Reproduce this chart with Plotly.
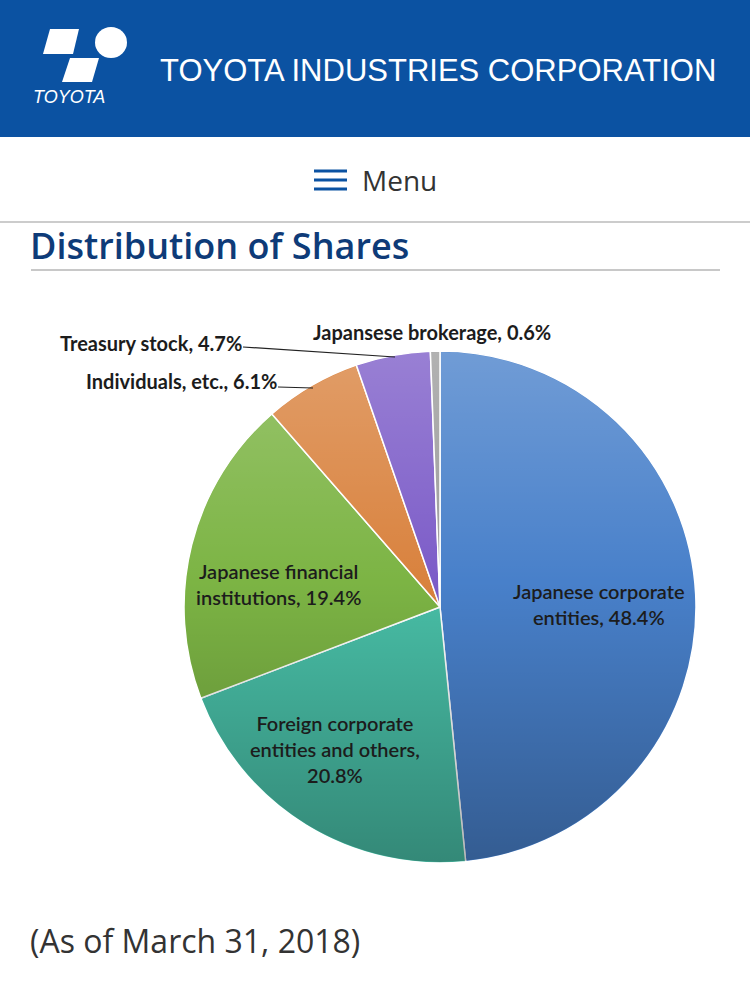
import base64
import plotly.graph_objects as go

# shareholder distribution (as of March 31, 2018)
labels = ["Japanese corporate entities", "Foreign corporate entities and others",
          "Japanese financial institutions", "Individuals, etc.", "Treasury stock",
          "Japansese brokerage"]
names = ["Japanese corporate<br>entities", "Foreign corporate<br>entities and others",
         "Japanese financial<br>institutions", "Individuals, etc.", "Treasury stock",
         "Japansese brokerage"]
seps = [", ", ",<br>", ", ", ", ", ", ", ", "]
shares = [48.4, 20.8, 19.4, 6.1, 4.7, 0.6]
colors = ["#4880ca", "#48bea6", "#7cb444", "#d9823e", "#7c5cc8", "#9c9c9c"]

W, H = 750, 993
def px(x): return x / W
def py(y): return 1 - y / H

BLUE = "#0b52a2"
NAVY = "#0e3b78"

# pie box (pixels)
PX0, PX1, PY0, PY1 = 184, 696, 351, 863

fig = go.Figure()
fig.add_trace(go.Pie(values=shares, labels=labels, sort=False, direction="clockwise",
                     rotation=0, textinfo="none", hoverinfo="label+percent",
                     marker=dict(colors=colors, line=dict(color="white", width=1.5)),
                     domain=dict(x=[px(PX0), px(PX1)], y=[py(PY1), py(PY0)]),
                     showlegend=False))

# soft vertical shading over the pie (light top, dark bottom)
svg = ("<svg xmlns='http://www.w3.org/2000/svg' width='512' height='512' viewBox='0 0 512 512'>"
       "<defs><linearGradient id='g' x1='0' y1='0' x2='0' y2='1'>"
       "<stop offset='0' stop-color='#ffffff' stop-opacity='0.22'/>"
       "<stop offset='0.45' stop-color='#ffffff' stop-opacity='0'/>"
       "<stop offset='0.45' stop-color='#000000' stop-opacity='0'/>"
       "<stop offset='1' stop-color='#000000' stop-opacity='0.28'/>"
       "</linearGradient></defs><circle cx='256' cy='256' r='255' fill='url(#g)'/></svg>")
shade = "data:image/svg+xml;base64," + base64.b64encode(svg.encode()).decode()
fig.add_layout_image(dict(source=shade, xref="paper", yref="paper",
                          x=px(PX0), y=py(PY0), sizex=px(PX1) - px(PX0),
                          sizey=py(PY0) - py(PY1), xanchor="left", yanchor="top",
                          sizing="stretch", layer="above"))

shapes = []
# header band
shapes.append(dict(type="rect", xref="paper", yref="paper", x0=0, x1=1, y0=py(137), y1=1,
                   fillcolor=BLUE, line_width=0, layer="below"))
# logo
def poly(pts):
    return "M " + " L ".join(f"{px(a)},{py(b)}" for a, b in pts) + " Z"
shapes.append(dict(type="path", xref="paper", yref="paper",
                   path=poly([(50, 29), (79, 29), (73, 54), (43, 54)]),
                   fillcolor="white", line_width=0))
shapes.append(dict(type="path", xref="paper", yref="paper",
                   path=poly([(70, 58), (99, 58), (92, 82), (62, 82)]),
                   fillcolor="white", line_width=0))
shapes.append(dict(type="circle", xref="paper", yref="paper",
                   x0=px(95), x1=px(127), y0=py(58), y1=py(27),
                   fillcolor="white", line_width=0))
# hamburger icon
for yy in [171, 180, 189]:
    shapes.append(dict(type="line", xref="paper", yref="paper", x0=px(314), x1=px(347),
                       y0=py(yy), y1=py(yy), line=dict(color=BLUE, width=3)))
# dividers
shapes.append(dict(type="line", xref="paper", yref="paper", x0=0, x1=1,
                   y0=py(222), y1=py(222), line=dict(color="#cccccc", width=2)))
shapes.append(dict(type="line", xref="paper", yref="paper", x0=px(31), x1=px(720),
                   y0=py(270), y1=py(270), line=dict(color="#c8c8c8", width=2)))

ann = []
def txt(x, y, s, size, color, family, xa="left", ya="middle", weight="normal", **kw):
    ann.append(dict(x=px(x), y=py(y), xref="paper", yref="paper", text=s, showarrow=False,
                    xanchor=xa, yanchor=ya,
                    font=dict(size=size, color=color, family=family, weight=weight), **kw))

txt(158, 70, "TOYOTA INDUSTRIES CORPORATION", 31, "white", "Liberation Sans")
txt(31, 97, "<i>TOYOTA</i>", 18, "white", "Liberation Sans")
txt(360, 180, "Menu", 28, "#333333", "Open Sans")
txt(28, 245, "Distribution of Shares", 36, NAVY, "Open Sans", weight=600)
txt(28, 940, "(As of March 31, 2018)", 32, "#333333", "Open Sans")

# slice labels
lab = [n + s + f"{v}%" for n, s, v in zip(names, seps, shares)]
LF = "Lato"
LC = "#1c1c1c"
inner = [(599, 604), (335, 749), (278, 584)]
for i, (x, y) in enumerate(inner):
    txt(x, y, lab[i], 20, LC, LF, xa="center", align="center", weight=600)
# outside labels with leader lines
txt(279, 381, lab[3], 20, LC, LF, xa="right", weight="bold")
txt(244, 343, lab[4], 20, LC, LF, xa="right", weight="bold")
txt(311, 332, lab[5], 20, LC, LF, xa="left", weight="bold")
shapes.append(dict(type="line", xref="paper", yref="paper", x0=px(278), x1=px(313),
                   y0=py(387), y1=py(388), line=dict(color="#222222", width=1.2)))
shapes.append(dict(type="line", xref="paper", yref="paper", x0=px(243), x1=px(395),
                   y0=py(347), y1=py(357), line=dict(color="#222222", width=1.2)))

fig.update_layout(width=W, height=H, margin=dict(l=0, r=0, t=0, b=0),
                  paper_bgcolor="white", plot_bgcolor="white",
                  shapes=shapes, annotations=ann)
fig.write_html("out.html", config={"displayModeBar": False},
               post_script="document.body.style.margin='0';")
